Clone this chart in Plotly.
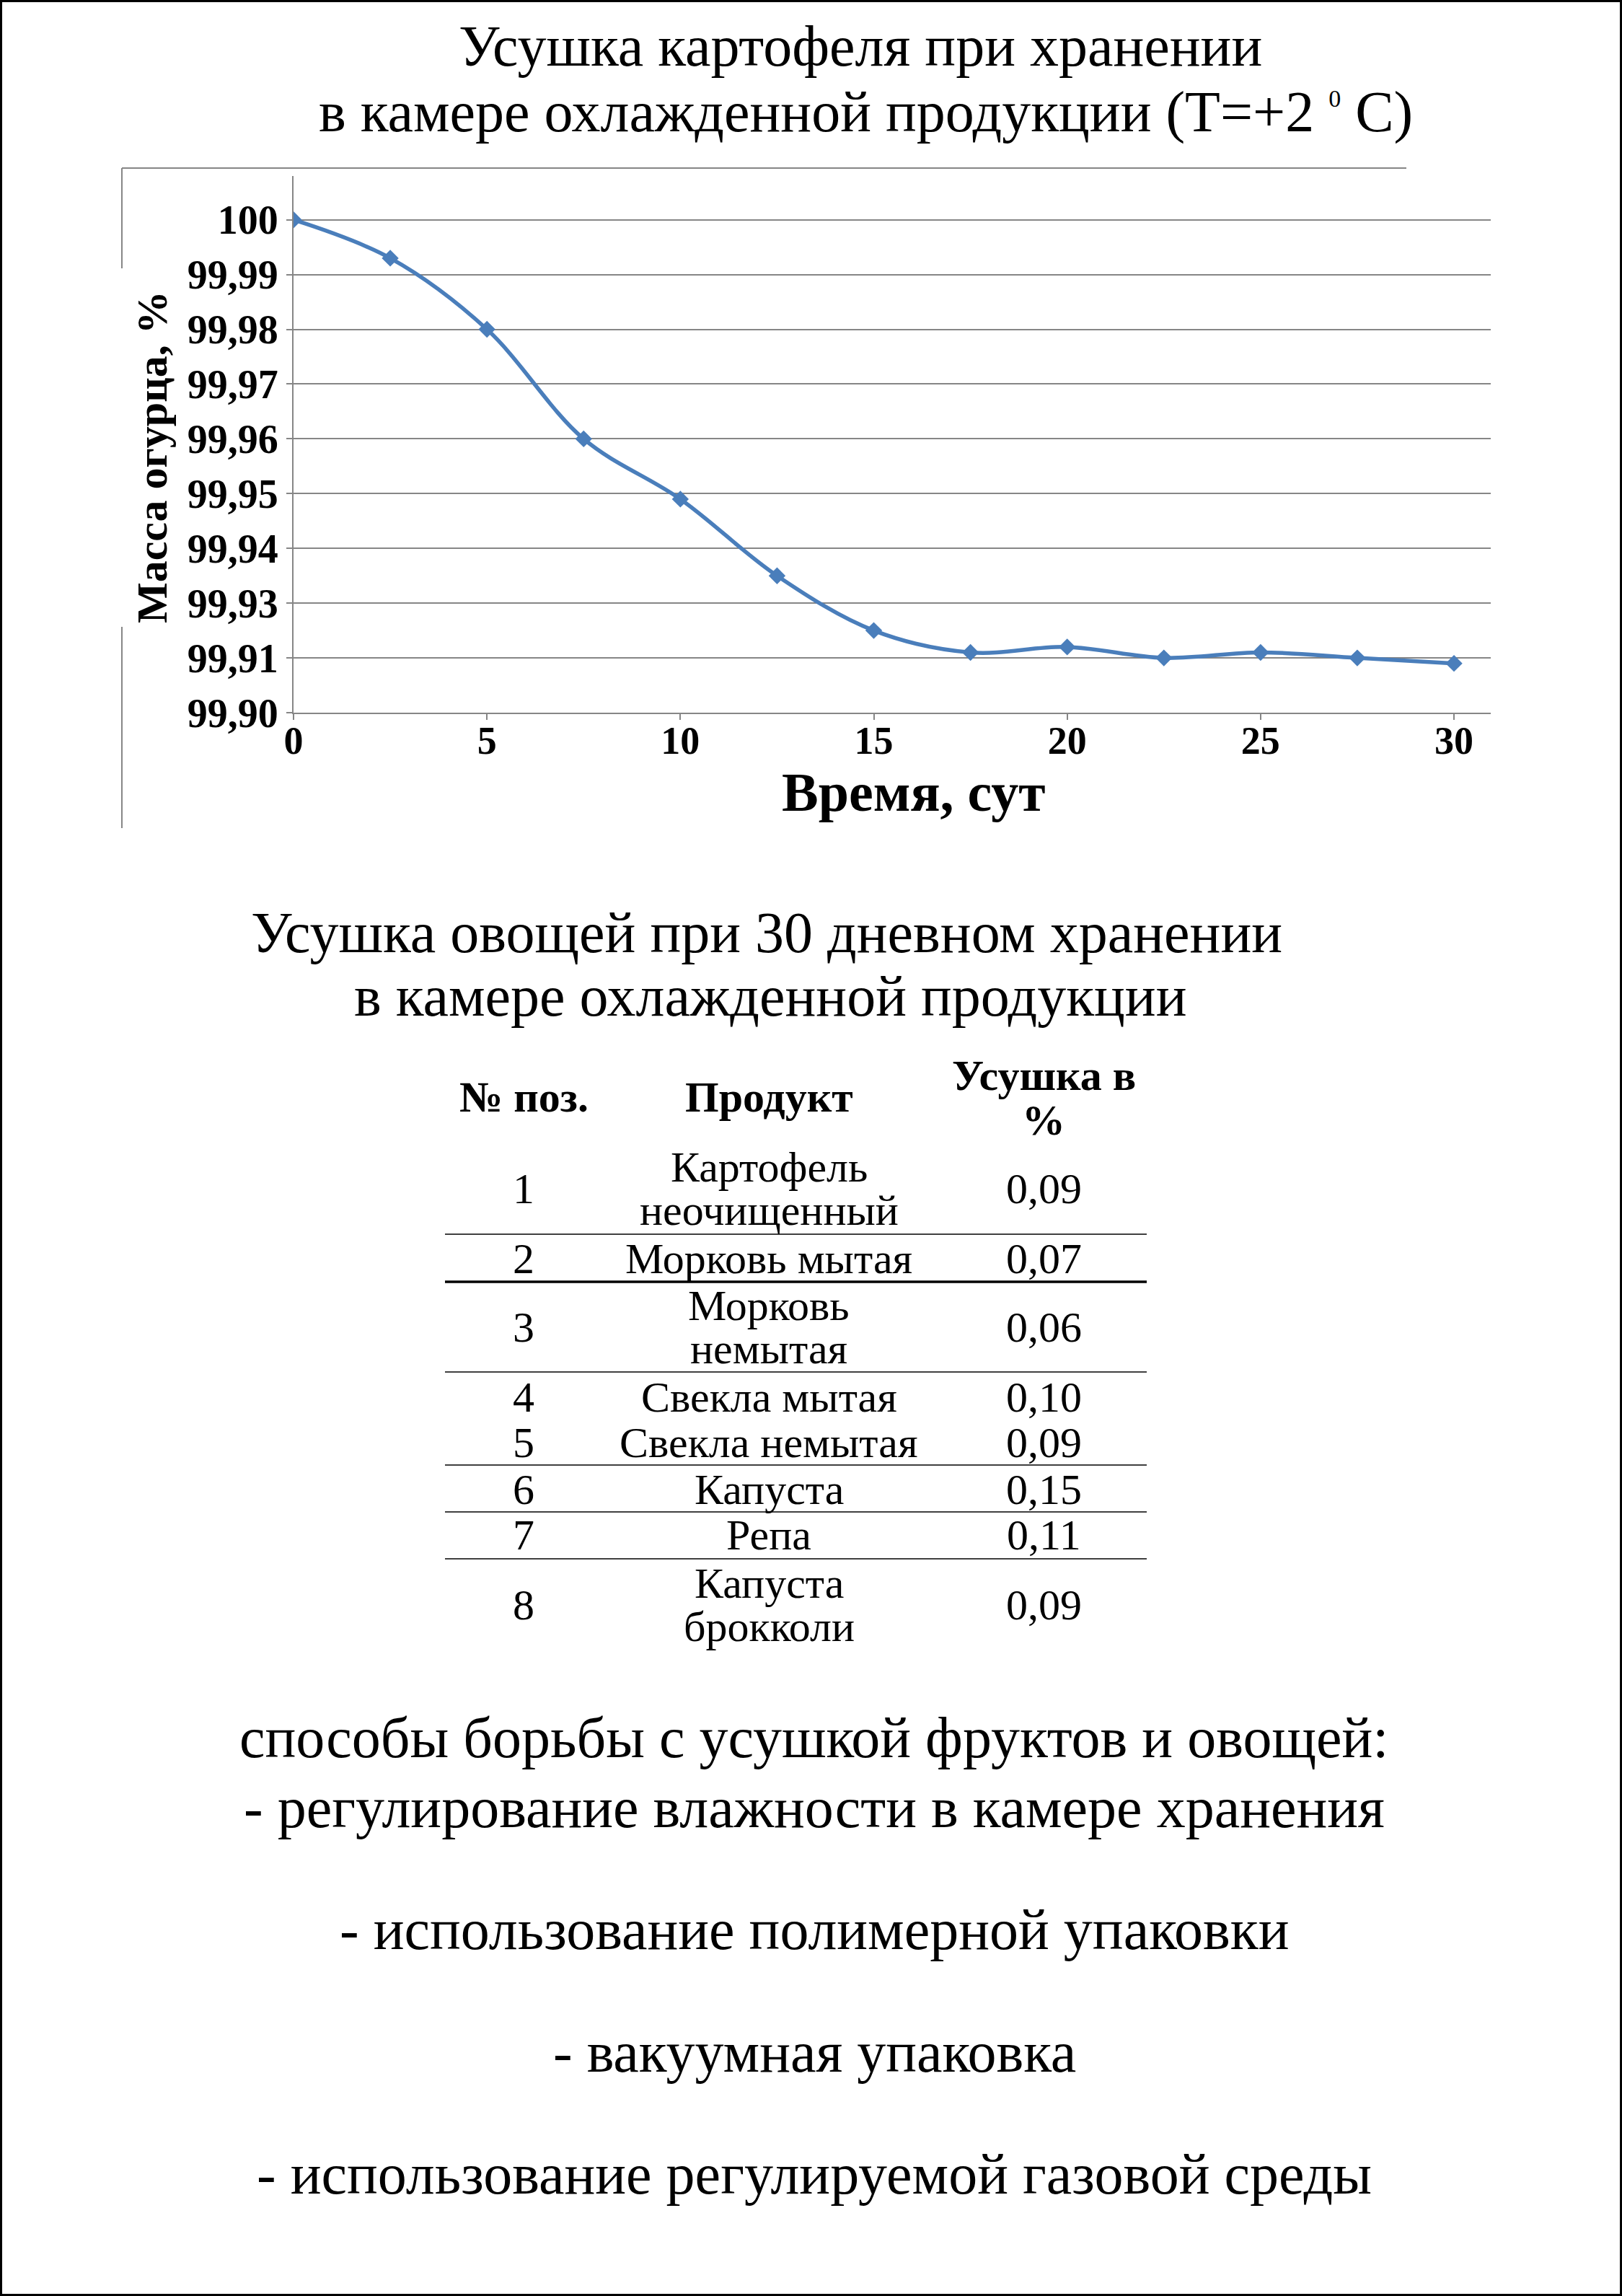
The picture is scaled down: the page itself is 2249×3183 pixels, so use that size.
import plotly.graph_objects as go

# ---------------- data ----------------
days = [0, 2.5, 5, 7.5, 10, 12.5, 15, 17.5, 20, 22.5, 25, 27.5, 30]
mass = [100.000, 99.993, 99.980, 99.960, 99.949, 99.935, 99.925,
        99.921, 99.922, 99.920, 99.921, 99.920, 99.919]

x_ticks = [0, 5, 10, 15, 20, 25, 30]
y_tickvals = [100.00, 99.99, 99.98, 99.97, 99.96, 99.95, 99.94, 99.93, 99.92, 99.91]
y_ticktext = ["100", "99,99", "99,98", "99,97", "99,96", "99,95", "99,94", "99,93", "99,91", "99,90"]

table_header = ["№ поз.", "Продукт", "Усушка в\n%"]
pos_numbers = ["1", "2", "3", "4", "5", "6", "7", "8"]
products = ["Картофель\nнеочищенный", "Морковь мытая", "Морковь\nнемытая", "Свекла мытая",
            "Свекла немытая", "Капуста", "Репа", "Капуста\nброкколи"]
shrinkage = ["0,09", "0,07", "0,06", "0,10", "0,09", "0,15", "0,11", "0,09"]

title_lines = ["Усушка картофеля при хранении",
               "в камере охлажденной продукции (T=+2 <sup><span style='font-size:34px'>0</span></sup> C)"]
table_title_lines = ["Усушка овощей при 30 дневном хранении",
                     "в камере охлажденной продукции"]
bottom_lines = ["способы борьбы с усушкой фруктов и овощей:",
                "- регулирование влажности в камере хранения",
                "- использование полимерной упаковки",
                "- вакуумная упаковка",
                "- использование регулируемой газовой среды"]

# ---------------- layout constants ----------------
W, H = 2249, 3183
FONT = "Liberation Serif, Times New Roman, serif"
GRID = "#868686"
BLUE = "#4A7EBB"


def px(x):
    return x / W


def py(y):
    return 1 - y / H


fig = go.Figure()
fig.add_trace(go.Scatter(
    x=days, y=mass, mode="lines+markers",
    line=dict(color=BLUE, width=5.5, shape="spline", smoothing=1.0),
    marker=dict(symbol="diamond", size=18, color=BLUE),
    hoverinfo="x+y", showlegend=False,
))

annotations = []


def ann(text, x, y, size, bold=False, angle=0, xanchor="center"):
    annotations.append(dict(
        text=text, x=px(x), y=py(y), xref="paper", yref="paper",
        xanchor=xanchor, yanchor="middle", showarrow=False, textangle=angle,
        font=dict(family=FONT, size=size, color="black", weight="bold" if bold else "normal"),
    ))


# titles
ann(title_lines[0], 1193, 64, 80)
ann(title_lines[1], 1200, 155, 80)

# axis titles
ann("Масса огурца, %", 211, 634, 60, bold=True, angle=-90)
ann("Время, сут", 1267, 1098, 76, bold=True)

# table title
ann(table_title_lines[0], 1063, 1293, 80)
ann(table_title_lines[1], 1068, 1381, 80)

# table
col_x = [726, 1066, 1447]
TS = 60
ann(table_header[0], col_x[0], 1521, TS, bold=True)
ann(table_header[1], col_x[1], 1521, TS, bold=True)
hdr = table_header[2].split("\n")
ann(hdr[0], col_x[2], 1491, TS, bold=True)
ann(hdr[1], col_x[2], 1553, TS, bold=True)

row_centers = [1648, 1745, 1840, 1937, 2000, 2065, 2128, 2225]
half_gap = 30
for i, yc in enumerate(row_centers):
    ann(pos_numbers[i], col_x[0], yc, TS)
    ann(shrinkage[i], col_x[2], yc, TS)
    parts = products[i].split("\n")
    if len(parts) == 1:
        ann(parts[0], col_x[1], yc, TS)
    else:
        ann(parts[0], col_x[1], yc - half_gap, TS)
        ann(parts[1], col_x[1], yc + half_gap, TS)

# bottom text
bottom_y = [2409, 2506, 2675, 2845, 3014]
for t, yy in zip(bottom_lines, bottom_y):
    ann(t, 1129, yy, 80)

shapes = []
# page border
shapes.append(dict(type="rect", xref="paper", yref="paper",
                   x0=px(1.5), x1=px(W - 1.5), y0=py(H - 1.5), y1=py(1.5),
                   line=dict(color="black", width=3)))
# chart frame remnants
for (x0, y0, x1, y1) in [(169, 233, 1950, 233), (169, 233, 169, 372), (169, 869, 169, 1148)]:
    shapes.append(dict(type="line", xref="paper", yref="paper",
                       x0=px(x0), y0=py(y0), x1=px(x1), y1=py(y1),
                       line=dict(color=GRID, width=2)))
# table rules
for yy, wdt in [(1711, 1.5), (1777, 3.5), (1902, 1.5), (2031, 1.5), (2096, 1.5), (2161, 1.5)]:
    shapes.append(dict(type="line", xref="paper", yref="paper",
                       x0=px(617), x1=px(1590), y0=py(yy), y1=py(yy),
                       line=dict(color="black", width=wdt)))

fig.update_layout(
    width=W, height=H,
    margin=dict(l=0, r=0, t=0, b=0),
    paper_bgcolor="white", plot_bgcolor="white",
    showlegend=False,
    annotations=annotations,
    shapes=shapes,
    xaxis=dict(
        domain=[px(407), px(2067)], range=[0, 30.95],
        tickmode="array", tickvals=x_ticks, ticktext=[str(v) for v in x_ticks],
        showgrid=False, zeroline=False,
        showline=True, linecolor=GRID, linewidth=2,
        ticks="outside", ticklen=8, tickwidth=2, tickcolor=GRID,
        tickfont=dict(family=FONT, size=54, color="black", weight="bold"),
        ticklabelstandoff=-18,
        automargin=False,
    ),
    yaxis=dict(
        domain=[py(988), py(244)], range=[99.91, 100.008],
        tickmode="array", tickvals=y_tickvals, ticktext=y_ticktext,
        showgrid=True, gridcolor=GRID, gridwidth=2, zeroline=False,
        showline=True, linecolor=GRID, linewidth=2,
        ticks="outside", ticklen=8, tickwidth=2, tickcolor=GRID,
        tickfont=dict(family=FONT, size=56, color="black", weight="bold"),
        ticklabelstandoff=0,
        automargin=False,
    ),
)

fig.write_html("out.html", config={"displayModeBar": False},
               post_script="document.body.style.margin='0px';")
